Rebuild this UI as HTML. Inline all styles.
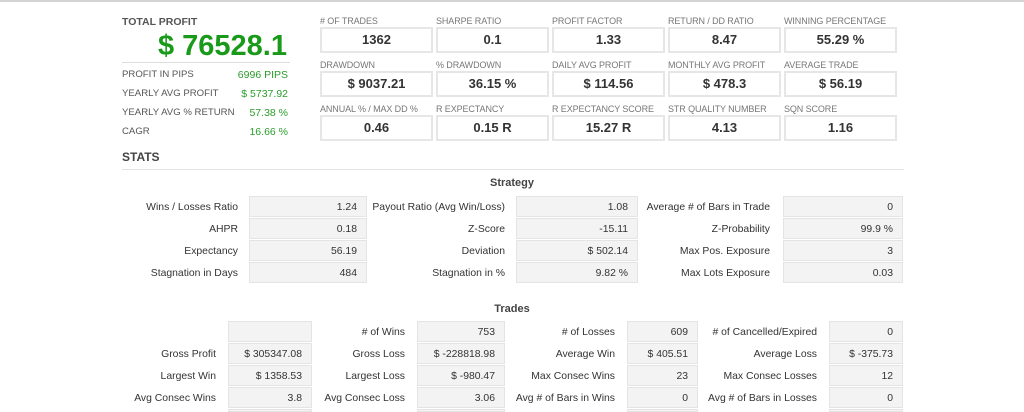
<!DOCTYPE html>
<html><head><meta charset="utf-8"><style>
*{margin:0;padding:0;box-sizing:border-box}
html,body{width:1024px;height:412px;overflow:hidden}
body{background:#fff;position:relative;font-family:"Liberation Sans",Arial,sans-serif;color:#333}
.a{position:absolute;white-space:nowrap}
.topline{position:absolute;left:0;top:0;width:1024px;height:2px;background:#d4d4d4}
.lbl{font-size:9px;color:#777;position:absolute;white-space:nowrap;letter-spacing:-0.1px}
.box{position:absolute;width:113px;height:26px;border:2px solid #e6e6e6;background:#fff;text-align:center;font-weight:bold;font-size:13px;line-height:22px;color:#333}
.sl{position:absolute;font-size:9.6px;color:#555;white-space:nowrap}
.sv{position:absolute;font-size:10.5px;color:#2a9d2a;text-align:right;white-space:nowrap}
.rl{position:absolute;font-size:10.4px;color:#333;text-align:right;white-space:nowrap;line-height:23px}
.rb{position:absolute;height:21px;background:#f3f3f3;border:1px solid #e4e4e4;font-size:10.4px;color:#333;text-align:right;padding-right:9px;line-height:21px;overflow:hidden}
</style></head><body>
<div class="topline"></div>
<div class="a" style="left:122px;top:16px;font-size:10.5px;font-weight:bold;color:#555">TOTAL PROFIT</div>
<div class="a" style="left:122px;width:165px;text-align:right;top:29px;font-size:29px;font-weight:bold;color:#1a9a1a;line-height:34px">$ 76528.1</div>
<div class="a" style="left:122px;top:62px;width:168px;height:1px;background:#ddd"></div>
<div class="sl" style="left:122px;top:69px">PROFIT IN PIPS</div><div class="sv" style="left:200px;width:88px;top:69px">6996 PIPS</div>
<div class="sl" style="left:122px;top:88px">YEARLY AVG PROFIT</div><div class="sv" style="left:200px;width:88px;top:88px">$ 5737.92</div>
<div class="sl" style="left:122px;top:107px">YEARLY AVG % RETURN</div><div class="sv" style="left:200px;width:88px;top:107px">57.38 %</div>
<div class="sl" style="left:122px;top:126px">CAGR</div><div class="sv" style="left:200px;width:88px;top:126px">16.66 %</div>
<div class="a" style="left:122px;top:150px;font-size:12px;font-weight:bold;color:#444">STATS</div>
<div class="a" style="left:122px;top:169px;width:782px;height:1px;background:#e2e2e2"></div>

<div class="lbl" style="left:320px;top:16px">#&nbsp;OF TRADES</div><div class="box" style="left:320px;top:27px">1362</div>
<div class="lbl" style="left:436px;top:16px">SHARPE RATIO</div><div class="box" style="left:436px;top:27px">0.1</div>
<div class="lbl" style="left:552px;top:16px">PROFIT FACTOR</div><div class="box" style="left:552px;top:27px">1.33</div>
<div class="lbl" style="left:668px;top:16px">RETURN / DD RATIO</div><div class="box" style="left:668px;top:27px">8.47</div>
<div class="lbl" style="left:784px;top:16px">WINNING PERCENTAGE</div><div class="box" style="left:784px;top:27px">55.29 %</div>

<div class="lbl" style="left:320px;top:60px">DRAWDOWN</div><div class="box" style="left:320px;top:71px">$ 9037.21</div>
<div class="lbl" style="left:436px;top:60px">% DRAWDOWN</div><div class="box" style="left:436px;top:71px">36.15 %</div>
<div class="lbl" style="left:552px;top:60px">DAILY AVG PROFIT</div><div class="box" style="left:552px;top:71px">$ 114.56</div>
<div class="lbl" style="left:668px;top:60px">MONTHLY AVG PROFIT</div><div class="box" style="left:668px;top:71px">$ 478.3</div>
<div class="lbl" style="left:784px;top:60px">AVERAGE TRADE</div><div class="box" style="left:784px;top:71px">$ 56.19</div>

<div class="lbl" style="left:320px;top:104px">ANNUAL % / MAX DD %</div><div class="box" style="left:320px;top:115px">0.46</div>
<div class="lbl" style="left:436px;top:104px">R EXPECTANCY</div><div class="box" style="left:436px;top:115px">0.15 R</div>
<div class="lbl" style="left:552px;top:104px">R EXPECTANCY SCORE</div><div class="box" style="left:552px;top:115px">15.27 R</div>
<div class="lbl" style="left:668px;top:104px">STR QUALITY NUMBER</div><div class="box" style="left:668px;top:115px">4.13</div>
<div class="lbl" style="left:784px;top:104px">SQN SCORE</div><div class="box" style="left:784px;top:115px">1.16</div>

<div class="a" style="left:0;width:1024px;text-align:center;top:177px;font-size:11px;font-weight:bold;color:#444">Strategy</div>
<div class="rl" style="left:100px;width:138px;top:196px">Wins / Losses Ratio</div><div class="rb" style="left:249px;width:118px;top:196px">1.24</div>
<div class="rl" style="left:355px;width:150px;top:196px">Payout Ratio (Avg Win/Loss)</div><div class="rb" style="left:516px;width:122px;top:196px">1.08</div>
<div class="rl" style="left:620px;width:150px;top:196px">Average # of Bars in Trade</div><div class="rb" style="left:783px;width:120px;top:196px">0</div>

<div class="rl" style="left:100px;width:138px;top:218px">AHPR</div><div class="rb" style="left:249px;width:118px;top:218px">0.18</div>
<div class="rl" style="left:355px;width:150px;top:218px">Z-Score</div><div class="rb" style="left:516px;width:122px;top:218px">-15.11</div>
<div class="rl" style="left:620px;width:150px;top:218px">Z-Probability</div><div class="rb" style="left:783px;width:120px;top:218px">99.9 %</div>

<div class="rl" style="left:100px;width:138px;top:240px">Expectancy</div><div class="rb" style="left:249px;width:118px;top:240px">56.19</div>
<div class="rl" style="left:355px;width:150px;top:240px">Deviation</div><div class="rb" style="left:516px;width:122px;top:240px">$ 502.14</div>
<div class="rl" style="left:620px;width:150px;top:240px">Max Pos. Exposure</div><div class="rb" style="left:783px;width:120px;top:240px">3</div>

<div class="rl" style="left:100px;width:138px;top:262px">Stagnation in Days</div><div class="rb" style="left:249px;width:118px;top:262px">484</div>
<div class="rl" style="left:355px;width:150px;top:262px">Stagnation in %</div><div class="rb" style="left:516px;width:122px;top:262px">9.82 %</div>
<div class="rl" style="left:620px;width:150px;top:262px">Max Lots Exposure</div><div class="rb" style="left:783px;width:120px;top:262px">0.03</div>

<div class="a" style="left:0;width:1024px;text-align:center;top:303px;font-size:11px;font-weight:bold;color:#444">Trades</div>

<div class="rb" style="left:228px;width:84px;top:321px"></div>
<div class="rl" style="left:300px;width:105px;top:321px"># of Wins</div><div class="rb" style="left:417px;width:88px;top:321px">753</div>
<div class="rl" style="left:500px;width:115px;top:321px"># of Losses</div><div class="rb" style="left:627px;width:71px;top:321px">609</div>
<div class="rl" style="left:680px;width:137px;top:321px"># of Cancelled/Expired</div><div class="rb" style="left:829px;width:74px;top:321px">0</div>

<div class="rl" style="left:100px;width:116px;top:343px">Gross Profit</div><div class="rb" style="left:228px;width:84px;top:343px">$ 305347.08</div>
<div class="rl" style="left:300px;width:105px;top:343px">Gross Loss</div><div class="rb" style="left:417px;width:88px;top:343px">$ -228818.98</div>
<div class="rl" style="left:500px;width:115px;top:343px">Average Win</div><div class="rb" style="left:627px;width:71px;top:343px">$ 405.51</div>
<div class="rl" style="left:680px;width:137px;top:343px">Average Loss</div><div class="rb" style="left:829px;width:74px;top:343px">$ -375.73</div>

<div class="rl" style="left:100px;width:116px;top:365px">Largest Win</div><div class="rb" style="left:228px;width:84px;top:365px">$ 1358.53</div>
<div class="rl" style="left:300px;width:105px;top:365px">Largest Loss</div><div class="rb" style="left:417px;width:88px;top:365px">$ -980.47</div>
<div class="rl" style="left:500px;width:115px;top:365px">Max Consec Wins</div><div class="rb" style="left:627px;width:71px;top:365px">23</div>
<div class="rl" style="left:680px;width:137px;top:365px">Max Consec Losses</div><div class="rb" style="left:829px;width:74px;top:365px">12</div>

<div class="rl" style="left:100px;width:116px;top:387px">Avg Consec Wins</div><div class="rb" style="left:228px;width:84px;top:387px">3.8</div>
<div class="rl" style="left:300px;width:105px;top:387px">Avg Consec Loss</div><div class="rb" style="left:417px;width:88px;top:387px">3.06</div>
<div class="rl" style="left:500px;width:115px;top:387px">Avg # of Bars in Wins</div><div class="rb" style="left:627px;width:71px;top:387px">0</div>
<div class="rl" style="left:680px;width:137px;top:387px">Avg # of Bars in Losses</div><div class="rb" style="left:829px;width:74px;top:387px">0</div>

<div class="rb" style="left:228px;width:84px;top:409px;height:3px"></div>
<div class="rb" style="left:417px;width:88px;top:409px;height:3px"></div>
<div class="rb" style="left:627px;width:71px;top:409px;height:3px"></div>
<div class="rb" style="left:829px;width:74px;top:409px;height:3px"></div>
</body></html>
